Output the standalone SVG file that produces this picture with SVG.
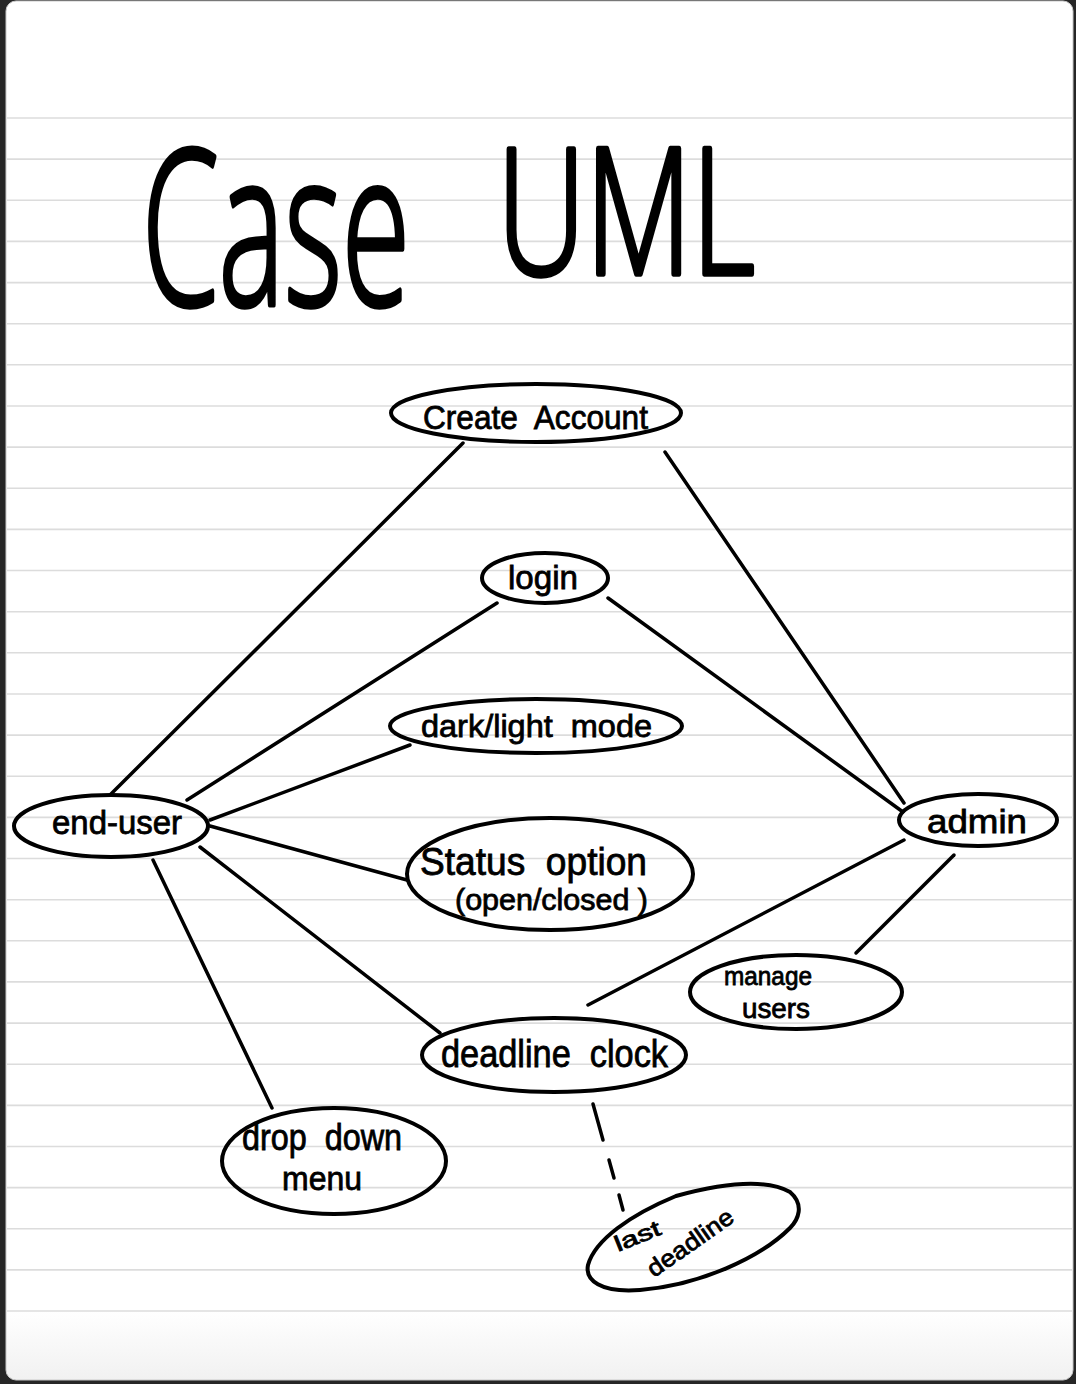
<svg xmlns="http://www.w3.org/2000/svg" width="1076" height="1384" viewBox="0 0 1076 1384">
<defs>
<linearGradient id="pg" x1="0" y1="0" x2="0" y2="1">
<stop offset="0" stop-color="#ffffff"/>
<stop offset="0.95" stop-color="#ffffff"/>
<stop offset="1" stop-color="#f1f1f1"/>
</linearGradient>
<style>
.rule{stroke:#dcdcdc;stroke-width:1.6}
.node ellipse,.node path{fill:none;stroke:#000;stroke-width:4}
.lbl{font-family:"Liberation Sans","DejaVu Sans",sans-serif;fill:#000;stroke:#000;stroke-width:0.8}
.ttl{font-family:"Open Sans","Liberation Sans",sans-serif;font-weight:300;fill:#000;stroke:#000;stroke-width:3;stroke-linejoin:round}
.conn line{stroke:#000;stroke-width:3.5;stroke-linecap:round}
</style>
</defs>
<rect x="0" y="0" width="1076" height="1384" fill="#262626"/>
<rect x="6" y="1" width="1067" height="1379" rx="10" fill="url(#pg)" stroke="#c8c8c8" stroke-width="1"/>
<g id="rules">
<line class="rule" x1="7" y1="118" x2="1072" y2="118"/>
<line class="rule" x1="7" y1="159.1" x2="1072" y2="159.1"/>
<line class="rule" x1="7" y1="200.3" x2="1072" y2="200.3"/>
<line class="rule" x1="7" y1="241.4" x2="1072" y2="241.4"/>
<line class="rule" x1="7" y1="282.6" x2="1072" y2="282.6"/>
<line class="rule" x1="7" y1="323.7" x2="1072" y2="323.7"/>
<line class="rule" x1="7" y1="364.8" x2="1072" y2="364.8"/>
<line class="rule" x1="7" y1="406" x2="1072" y2="406"/>
<line class="rule" x1="7" y1="447.1" x2="1072" y2="447.1"/>
<line class="rule" x1="7" y1="488.3" x2="1072" y2="488.3"/>
<line class="rule" x1="7" y1="529.4" x2="1072" y2="529.4"/>
<line class="rule" x1="7" y1="570.5" x2="1072" y2="570.5"/>
<line class="rule" x1="7" y1="611.7" x2="1072" y2="611.7"/>
<line class="rule" x1="7" y1="652.8" x2="1072" y2="652.8"/>
<line class="rule" x1="7" y1="694" x2="1072" y2="694"/>
<line class="rule" x1="7" y1="735.1" x2="1072" y2="735.1"/>
<line class="rule" x1="7" y1="776.2" x2="1072" y2="776.2"/>
<line class="rule" x1="7" y1="817.4" x2="1072" y2="817.4"/>
<line class="rule" x1="7" y1="858.5" x2="1072" y2="858.5"/>
<line class="rule" x1="7" y1="899.7" x2="1072" y2="899.7"/>
<line class="rule" x1="7" y1="940.8" x2="1072" y2="940.8"/>
<line class="rule" x1="7" y1="981.9" x2="1072" y2="981.9"/>
<line class="rule" x1="7" y1="1023.1" x2="1072" y2="1023.1"/>
<line class="rule" x1="7" y1="1064.2" x2="1072" y2="1064.2"/>
<line class="rule" x1="7" y1="1105.4" x2="1072" y2="1105.4"/>
<line class="rule" x1="7" y1="1146.5" x2="1072" y2="1146.5"/>
<line class="rule" x1="7" y1="1187.6" x2="1072" y2="1187.6"/>
<line class="rule" x1="7" y1="1228.8" x2="1072" y2="1228.8"/>
<line class="rule" x1="7" y1="1269.9" x2="1072" y2="1269.9"/>
<line class="rule" x1="7" y1="1311" x2="1072" y2="1311"/>
</g>
<g id="title">
<text class="ttl" x="0" y="0" transform="translate(142 305) scale(1 1.8)" font-size="120" textLength="268" lengthAdjust="spacingAndGlyphs">Case</text>
<text class="ttl" x="0" y="0" transform="translate(497 274) scale(1 1.8)" font-size="97" textLength="258" lengthAdjust="spacingAndGlyphs">UML</text>
</g>
<g id="connectors" class="conn">
<line x1="463" y1="443" x2="110" y2="795"/>
<line x1="665" y1="452" x2="904" y2="803"/>
<line x1="497" y1="603" x2="187" y2="800"/>
<line x1="608" y1="598" x2="903" y2="812"/>
<line x1="410" y1="745" x2="210" y2="820"/>
<line x1="407" y1="880" x2="210" y2="826"/>
<line x1="440" y1="1033" x2="200" y2="847"/>
<line x1="272" y1="1108" x2="153" y2="860"/>
<line x1="904" y1="840" x2="588" y2="1005"/>
<line x1="954" y1="855" x2="856" y2="953"/>
<line x1="593" y1="1104" x2="603" y2="1140"/>
<line x1="609" y1="1160" x2="614" y2="1178"/>
<line x1="619" y1="1195" x2="623" y2="1210"/>
</g>
<g id="create-account" class="node">
<ellipse cx="536" cy="413" rx="145" ry="29"/>
<text class="lbl" x="423" y="429" font-size="34" textLength="225" lengthAdjust="spacingAndGlyphs" xml:space="preserve">Create  Account</text>
</g>
<g id="login" class="node">
<ellipse cx="545" cy="578" rx="63" ry="25"/>
<text class="lbl" x="508" y="589" font-size="34" textLength="70" lengthAdjust="spacingAndGlyphs">login</text>
</g>
<g id="dark-light-mode" class="node">
<ellipse cx="536" cy="726" rx="146" ry="27"/>
<text class="lbl" x="421" y="737" font-size="32" textLength="231" lengthAdjust="spacingAndGlyphs" xml:space="preserve">dark/light  mode</text>
</g>
<g id="end-user" class="node">
<ellipse cx="111" cy="826" rx="97" ry="31"/>
<text class="lbl" x="52" y="834" font-size="34" textLength="130" lengthAdjust="spacingAndGlyphs">end-user</text>
</g>
<g id="status-option" class="node">
<ellipse cx="550" cy="874" rx="143" ry="56"/>
<text class="lbl" x="420" y="875" font-size="38" textLength="227" lengthAdjust="spacingAndGlyphs" xml:space="preserve">Status  option</text>
<text class="lbl" x="455" y="910" font-size="30" textLength="193" lengthAdjust="spacingAndGlyphs">(open/closed )</text>
</g>
<g id="admin" class="node">
<ellipse cx="978" cy="820" rx="79" ry="26"/>
<text class="lbl" x="927" y="833" font-size="34" textLength="100" lengthAdjust="spacingAndGlyphs">admin</text>
</g>
<g id="manage-users" class="node">
<ellipse cx="796" cy="992" rx="106" ry="37"/>
<text class="lbl" x="724" y="985" font-size="26" textLength="88" lengthAdjust="spacingAndGlyphs">manage</text>
<text class="lbl" x="742" y="1018" font-size="28" textLength="68" lengthAdjust="spacingAndGlyphs">users</text>
</g>
<g id="deadline-clock" class="node">
<ellipse cx="554" cy="1055" rx="132" ry="37"/>
<text class="lbl" x="441" y="1067" font-size="38" textLength="227" lengthAdjust="spacingAndGlyphs" xml:space="preserve">deadline  clock</text>
</g>
<g id="drop-down-menu" class="node">
<ellipse cx="334" cy="1161" rx="112" ry="53"/>
<text class="lbl" x="242" y="1150" font-size="36" textLength="160" lengthAdjust="spacingAndGlyphs" xml:space="preserve">drop  down</text>
<text class="lbl" x="282" y="1190" font-size="34" textLength="80" lengthAdjust="spacingAndGlyphs">menu</text>
</g>
<g id="last-deadline" class="node">
<path d="M676 1196 C720 1184 765 1178 790 1192 C805 1205 798 1220 790 1228 C760 1258 700 1285 640 1290 C600 1293 585 1280 588 1265 C595 1240 630 1215 676 1196 Z"/>
<text class="lbl" x="618" y="1252" font-size="22" textLength="48" lengthAdjust="spacingAndGlyphs" transform="rotate(-22 618 1252)">last</text>
<text class="lbl" x="654" y="1278" font-size="24" textLength="100" lengthAdjust="spacingAndGlyphs" transform="rotate(-35 654 1278)">deadline</text>
</g>
</svg>
